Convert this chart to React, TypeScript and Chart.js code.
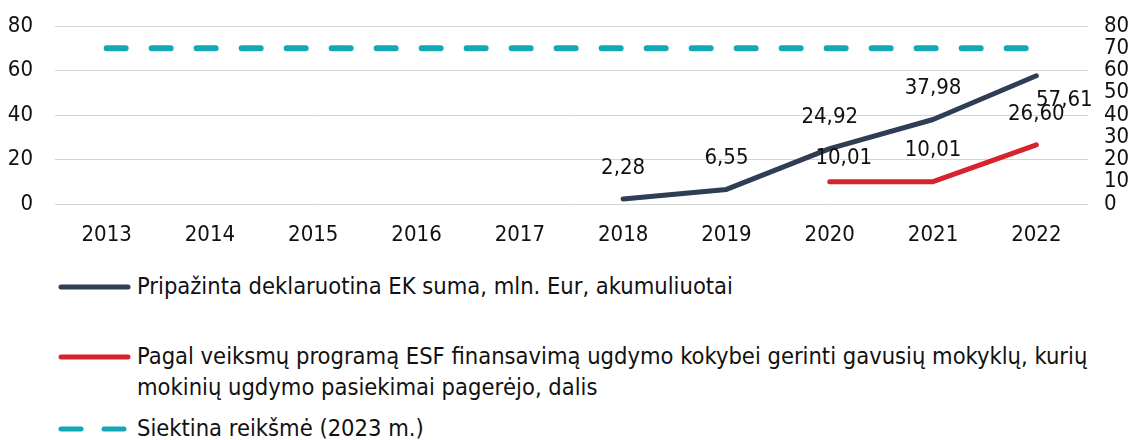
import React, { useEffect, useRef } from 'react';
import { Chart, registerables } from 'chart.js';

Chart.register(...registerables);

// ---- data ----
const years = ['2013', '2014', '2015', '2016', '2017', '2018', '2019', '2020', '2021', '2022'];
const declaredSum = [null, null, null, null, null, 2.28, 6.55, 24.92, 37.98, 57.61];
const improvedShare = [null, null, null, null, null, null, null, 10.01, 10.01, 26.6];
const targetValue = [70, 70, 70, 70, 70, 70, 70, 70, 70, 70];
const leftTickStep = 20;
const rightTickStep = 10;
const axisMin = 0;
const axisMax = 80;
const seriesNames = [
  'Pripažinta deklaruotina EK suma, mln. Eur, akumuliuotai',
  'Pagal veiksmų programą ESF finansavimą ugdymo kokybei gerinti gavusių mokyklų, kurių mokinių ugdymo pasiekimai pagerėjo, dalis',
  'Siektina reikšmė (2023 m.)',
];

// ---- style ----
const FONT = '"DejaVu Sans Condensed", "DejaVu Sans", sans-serif';
const NAVY = '#2f3d55';
const RED = '#d6232d';
const TEAL = '#12a9b5';
const TEXT = '#111111';
const GRID = '#d4d4d4';

const valueLabels = {
  id: 'valueLabels',
  afterDatasetsDraw(chart: any) {
    const ctx = chart.ctx;
    chart.data.datasets.forEach((ds: any, di: number) => {
      if (!ds.labelShift) return;
      const meta = chart.getDatasetMeta(di);
      ctx.save();
      ctx.font = `22px ${FONT}`;
      ctx.fillStyle = TEXT;
      ctx.textAlign = 'center';
      ctx.textBaseline = 'middle';
      ds.data.forEach((v: number | null, i: number) => {
        if (v == null) return;
        const el = meta.data[i];
        const [dx, dy] = ds.labelShift[i] || [0, -31];
        ctx.fillText(v.toFixed(2).replace('.', ','), el.x + dx, el.y + dy);
      });
      ctx.restore();
    });
  },
};

function LegendSample({ color, dashed }: { color: string; dashed?: boolean }) {
  return (
    <svg width="74" height="10" style={{ display: 'block' }}>
      <line
        x1="3"
        y1="5"
        x2="70"
        y2="5"
        stroke={color}
        strokeWidth="5"
        strokeLinecap="round"
        strokeDasharray={dashed ? '20 23' : undefined}
      />
    </svg>
  );
}

const fitVertical = (width: number) => (s: any) => {
  s.width = width;
  s.paddingTop = 0;
  s.paddingBottom = 0;
};

export default function App() {
  const ref = useRef<HTMLCanvasElement>(null);

  useEffect(() => {
    if (!ref.current) return;
    const chart = new Chart(ref.current, {
      type: 'line',
      data: {
        labels: years,
        datasets: [
          {
            label: seriesNames[2],
            data: targetValue,
            borderColor: TEAL,
            borderWidth: 6,
            borderDash: [19, 26],
            borderCapStyle: 'round',
            pointRadius: 0,
            yAxisID: 'y',
          } as any,
          {
            label: seriesNames[0],
            data: declaredSum,
            borderColor: NAVY,
            borderWidth: 5,
            borderCapStyle: 'round',
            borderJoinStyle: 'round',
            pointRadius: 0,
            yAxisID: 'y',
            labelShift: { 9: [28, 24] },
          } as any,
          {
            label: seriesNames[1],
            data: improvedShare,
            borderColor: RED,
            borderWidth: 5,
            borderCapStyle: 'round',
            borderJoinStyle: 'round',
            pointRadius: 0,
            yAxisID: 'y1',
            labelShift: { 7: [14, -23] },
          } as any,
        ],
      },
      options: {
        responsive: false,
        animation: false,
        layout: { padding: { top: 18, left: 0, right: 0, bottom: 0 } },
        plugins: { legend: { display: false }, tooltip: { enabled: false } },
        scales: {
          x: {
            offset: true,
            grid: { display: false },
            border: { display: false },
            ticks: { color: TEXT, font: { family: FONT, size: 22 }, padding: 10, maxRotation: 0 },
            afterFit: (s: any) => { s.height = 64; },
          },
          y: {
            position: 'left',
            min: axisMin,
            max: axisMax,
            grid: { color: GRID, lineWidth: 1, drawTicks: false },
            border: { display: false },
            ticks: { stepSize: leftTickStep, color: TEXT, font: { family: FONT, size: 22 }, padding: 22, autoSkip: false },
            afterFit: fitVertical(47),
          },
          y1: {
            position: 'right',
            min: axisMin,
            max: axisMax,
            grid: { display: false, drawTicks: false },
            border: { display: false },
            ticks: { stepSize: rightTickStep, color: TEXT, font: { family: FONT, size: 22 }, padding: 16, autoSkip: false },
            afterFit: fitVertical(48),
          },
        },
      } as any,
      plugins: [valueLabels],
    });
    return () => chart.destroy();
  }, []);

  const textStyle: React.CSSProperties = {
    position: 'absolute',
    left: 129,
    fontFamily: FONT,
    fontSize: 23.5,
    lineHeight: '31px',
    color: TEXT,
    whiteSpace: 'normal',
  };

  return (
    <div style={{ position: 'relative', width: 1128, height: 432 }}>
      <canvas ref={ref} width={1128} height={260} style={{ display: 'block' }} />
      <div style={{ position: 'absolute', left: 50, top: 274 }}><LegendSample color={NAVY} /></div>
      <div style={{ ...textStyle, top: 263, width: 990 }}>{seriesNames[0]}</div>
      <div style={{ position: 'absolute', left: 50, top: 344 }}><LegendSample color={RED} /></div>
      <div style={{ ...textStyle, top: 333, width: 975 }}>{seriesNames[1]}</div>
      <div style={{ position: 'absolute', left: 50, top: 416 }}><LegendSample color={TEAL} dashed /></div>
      <div style={{ ...textStyle, top: 405, width: 990 }}>{seriesNames[2]}</div>
    </div>
  );
}
